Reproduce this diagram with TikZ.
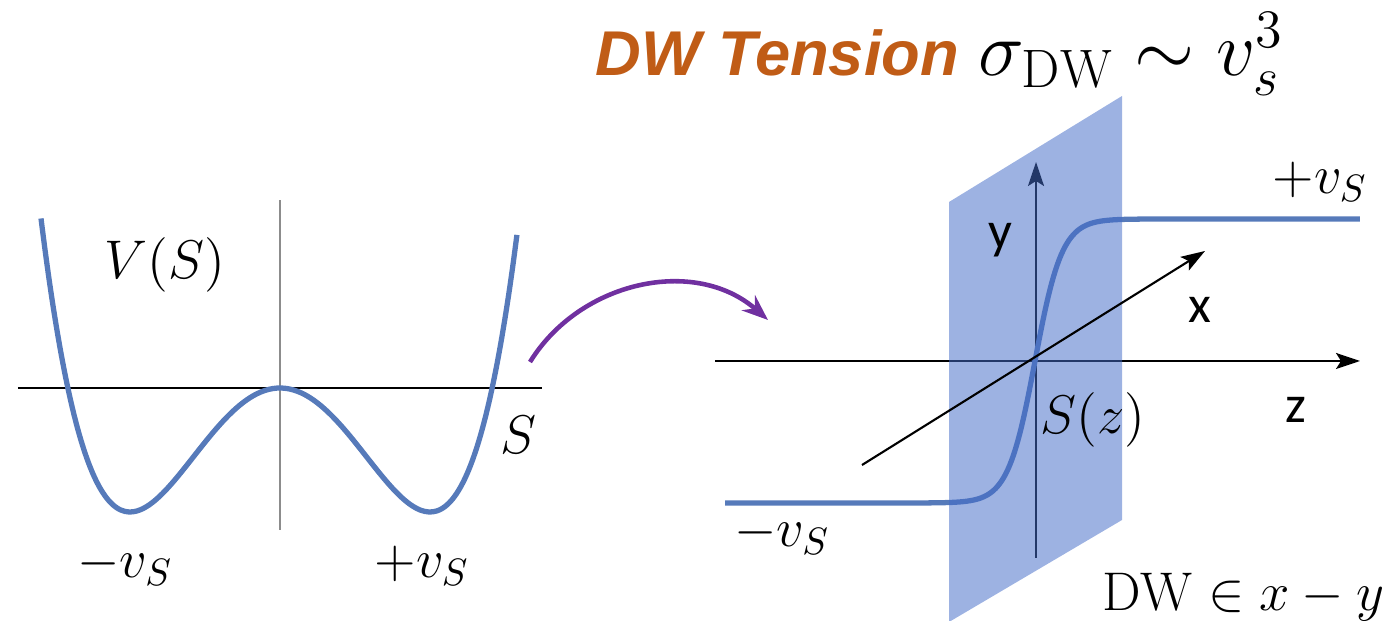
\RequirePackage{fix-cm}
\documentclass[tikz,border=0pt]{standalone}
\usepackage{fontspec}
\newfontfamily\axisfont{Carlito}
\newfontfamily\titlefont{Liberation Sans}
\usetikzlibrary{arrows.meta,positioning}

\definecolor{curveblue}{RGB}{86,122,186}
\definecolor{planeblue}{RGB}{68,108,200}
\definecolor{dworange}{RGB}{192,92,22}
\definecolor{arrowpurple}{RGB}{112,48,160}
\definecolor{axisgray}{RGB}{140,140,140}

\begin{document}
\begin{tikzpicture}[
  >=Stealth,
  curve/.style={curveblue, line width=1.5pt},
  axis/.style={black, line width=0.6pt},
  axisarrow/.style={-{Stealth[length=0.24cm, width=0.16cm, inset=0.05cm]}, black, line width=0.6pt},
  mathlbl/.style={inner sep=0pt, font=\fontsize{15.5}{18}\selectfont},
  axislbl/.style={inner sep=0pt, font=\axisfont\fontsize{15}{18}\selectfont},
  plane/.style={fill=planeblue, fill opacity=0.52, draw=none}
]
\useasboundingbox (0,0) rectangle (13.89,6.21);

% Double-well potential
\coordinate (sAxisL) at (0.18,2.33);
\coordinate (sAxisR) at (5.42,2.33);
\coordinate (vAxisB) at (2.80,0.91);
\coordinate (vAxisT) at (2.80,4.21);
\draw[axis] (sAxisL) -- (sAxisR);
\draw[axisgray, line width=0.6pt] (vAxisB) -- (vAxisT);
\draw[curve] plot[domain=-2.39:2.37, samples=120, smooth]
  ({2.80+\x}, {2.33-1.24+1.24*((\x/1.5)^2-1)^2});

\node[mathlbl] (potential) at (1.65,3.56) {$V(S)$};
\node[mathlbl] (field) at (5.18,1.86) {$S$};
\node[mathlbl] (vacMinusL) at (1.25,0.55) {$-v_S$};
\node[mathlbl] (vacPlusL) at (4.22,0.55) {$+v_S$};

% Purple arrow
\coordinate (arrowStart) at (5.30,2.59);
\coordinate (arrowEnd) at (7.68,3.01);
\draw[-{Stealth[length=0.26cm, width=0.2cm]}, arrowpurple, line width=1.3pt]
  (arrowStart) .. controls (5.80,3.40) and (6.95,3.65) .. (arrowEnd);

% Domain wall picture
\coordinate (zAxisL) at (7.15,2.60);
\coordinate (zAxisR) at (13.60,2.60);
\coordinate (yAxisB) at (10.36,0.63);
\coordinate (yAxisT) at (10.36,4.59);
\coordinate (xAxisB) at (8.62,1.56);
\coordinate (xAxisT) at (12.05,3.70);
\draw[axisarrow] (zAxisL) -- (zAxisR);
\draw[axisarrow] (yAxisB) -- (yAxisT);
\draw[curve] plot[domain=7.25:13.60, samples=320]
  (\x, {2.60+1.42*tanh(max(-4,min(4,(\x-10.35)/0.27)))});

% Wall plane
\fill[plane] (9.49,4.19) -- (11.22,5.25) -- (11.22,1.01) -- (9.49,-0.01) -- cycle;
\draw[axisarrow] (xAxisB) -- (xAxisT);

\node[axislbl] (yLbl) at (10.00,3.81) {y};
\node[axislbl] (xLbl) at (12.00,3.11) {x};
\node[axislbl] (zLbl) at (12.96,2.11) {z};
\node[mathlbl] (profile) at (10.93,2.01) {$S(z)$};
\node[mathlbl] (vacPlusR) at (13.20,4.39) {$+v_S$};
\node[mathlbl] (vacMinusR) at (7.82,0.86) {$-v_S$};
\node[mathlbl, anchor=east] (wallPlane) at (13.85,0.24) {$\mathrm{DW}\in x-y$};

% Title
\node[inner sep=0pt, anchor=base west, dworange, font=\titlefont\bfseries\itshape\fontsize{18}{21}\selectfont] (title) at (5.95,5.45) {DW Tension};
\node[inner sep=0pt, anchor=base west, font=\fontsize{22}{26}\selectfont] (tension) at (9.78,5.45) {$\sigma_{\mathrm{DW}}\sim v_s^3$};

\end{tikzpicture}
\end{document}
